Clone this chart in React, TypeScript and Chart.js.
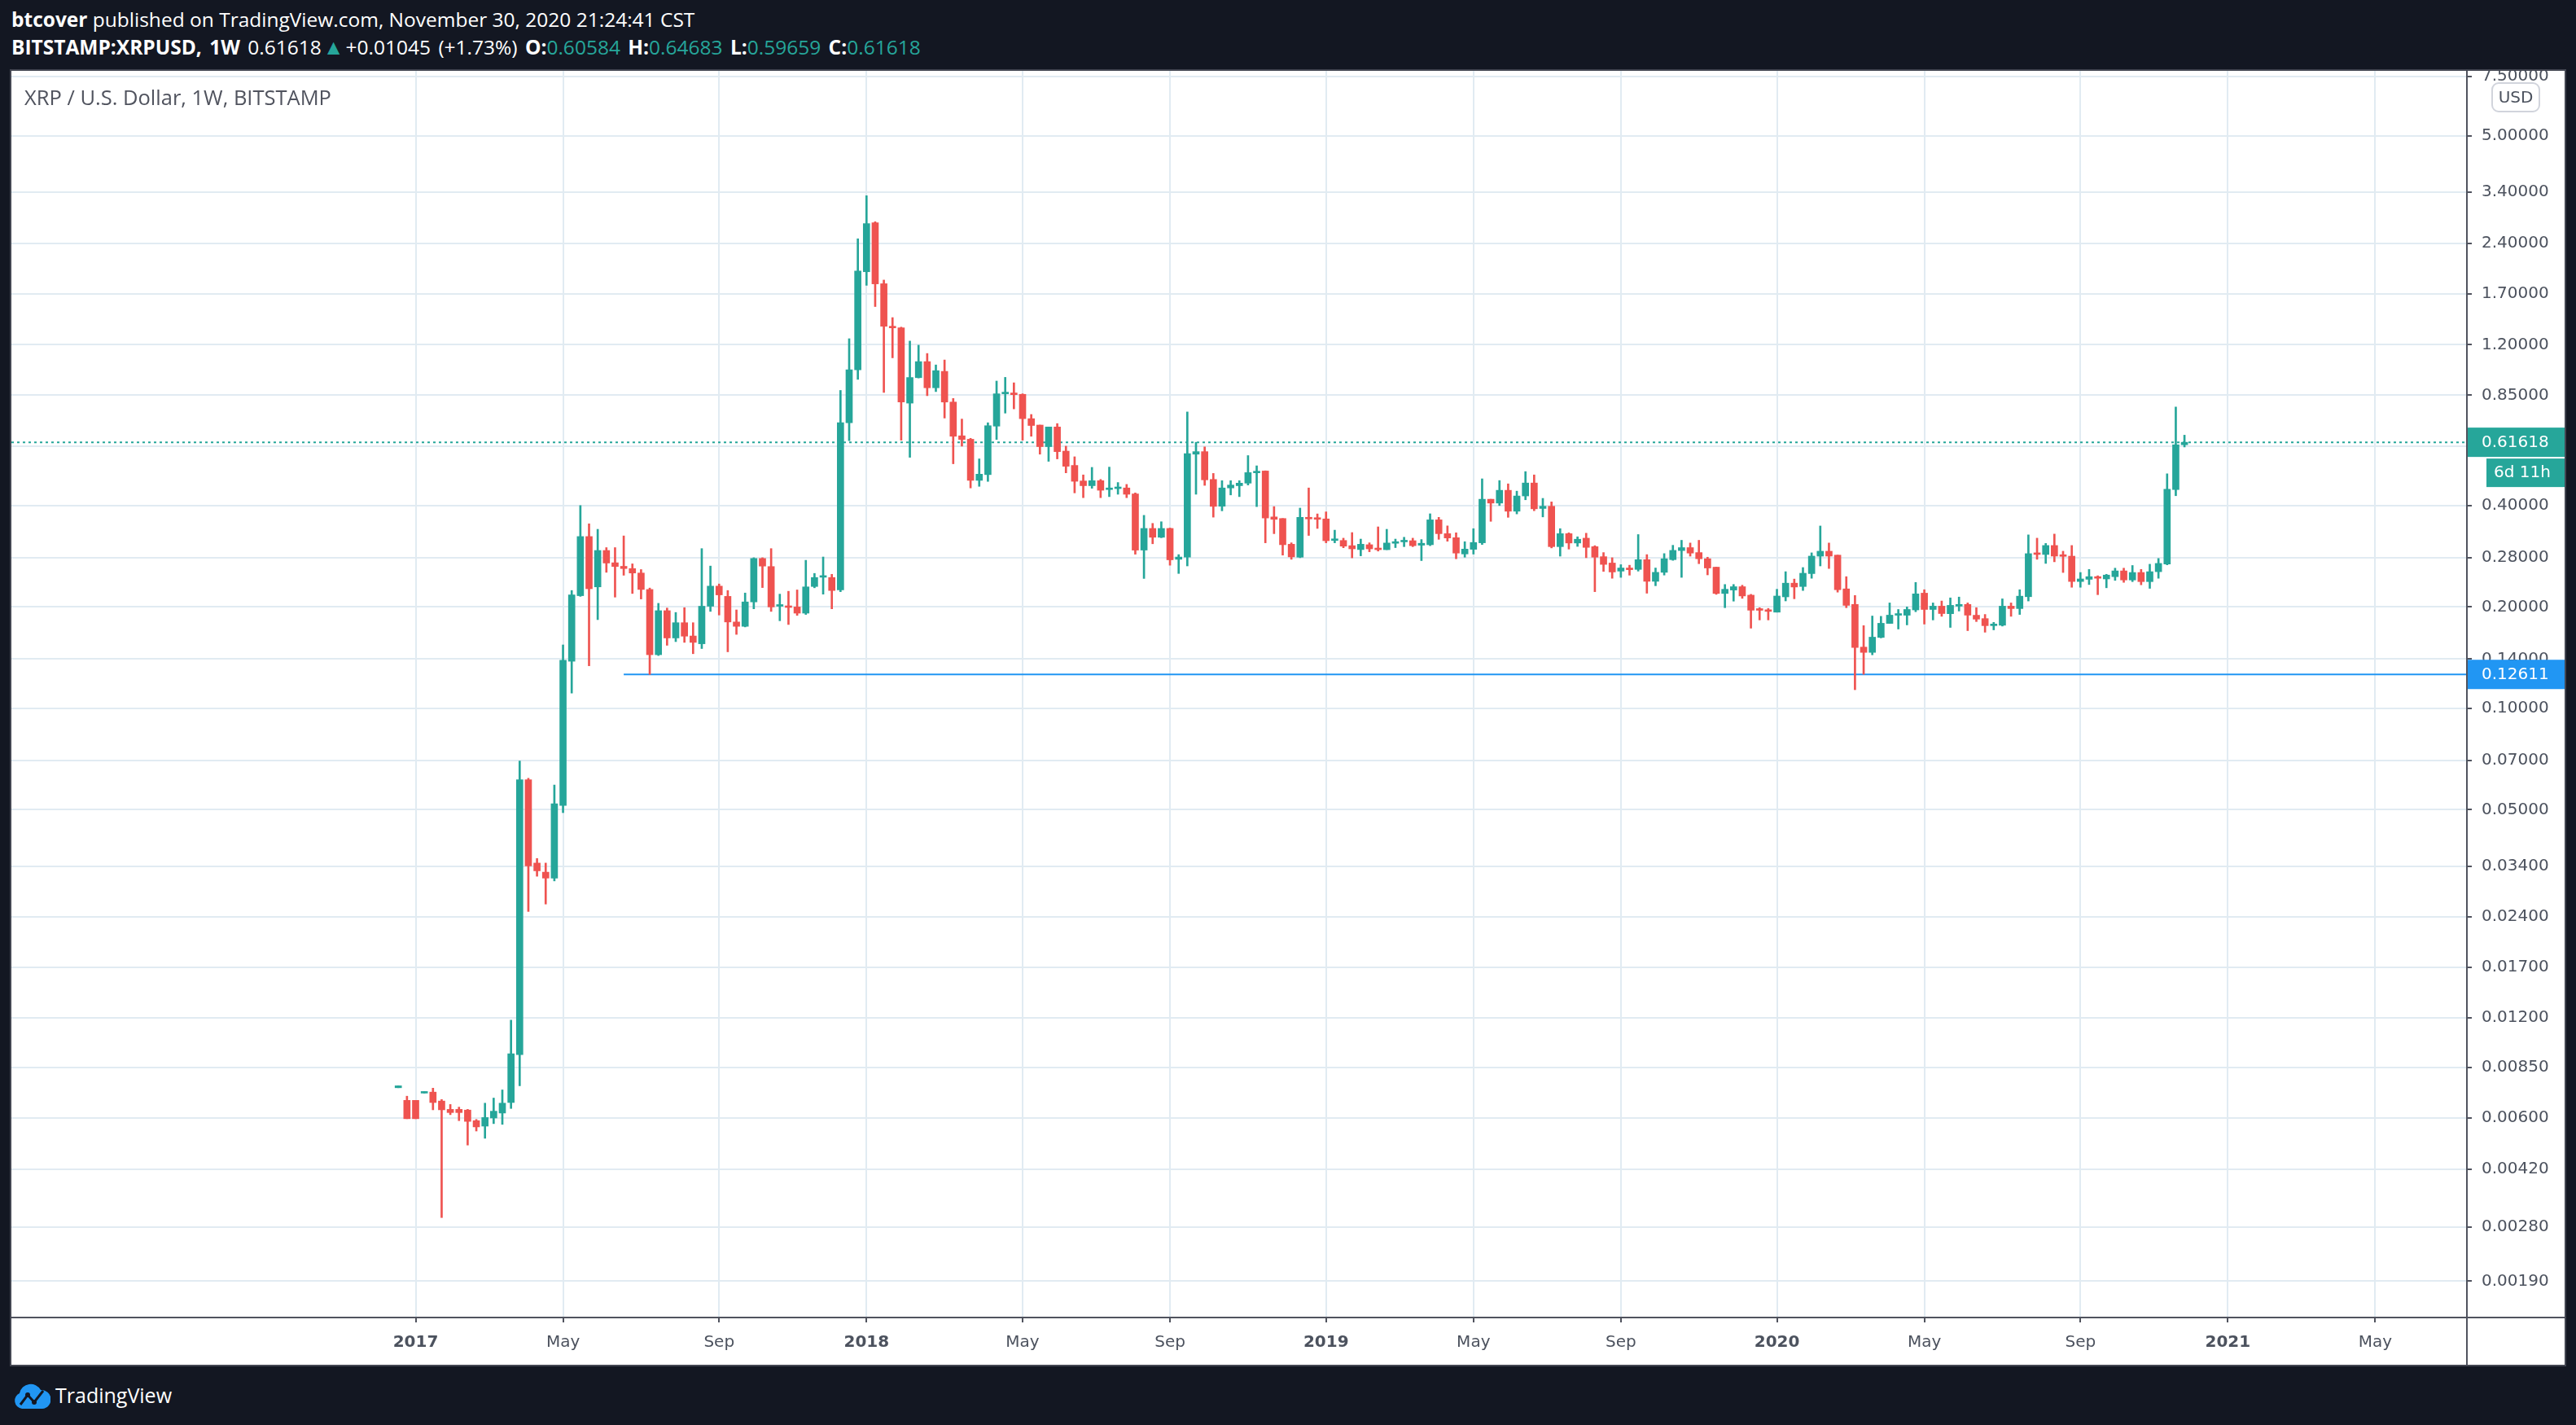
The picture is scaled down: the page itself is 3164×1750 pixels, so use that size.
import React, { useEffect, useRef } from 'react';
import { Chart, registerables, LogarithmicScale } from 'chart.js';

Chart.register(...registerables);

// TradingView-like log transform: log10(price + offset)
const LOG_OFFSET = 0.0001;
class TVLogScale extends LogarithmicScale {
  static id = 'tvlog';
  getPixelForValue(value: number) {
    const s = Math.log10((this as any).min + LOG_OFFSET);
    const e = Math.log10((this as any).max + LOG_OFFSET);
    return (this as any).getPixelForDecimal((Math.log10(value + LOG_OFFSET) - s) / (e - s));
  }
  getValueForPixel(pixel: number) {
    const s = Math.log10((this as any).min + LOG_OFFSET);
    const e = Math.log10((this as any).max + LOG_OFFSET);
    return Math.pow(10, s + (this as any).getDecimalForPixel(pixel) * (e - s)) - LOG_OFFSET;
  }
}
Chart.register(TVLogScale as any);

// ---------------- DATA ----------------
// weekly bars, bar index 0 = week of 2 Jan 2017; first bar is index FIRST_BAR
const FIRST_BAR = -2;

const OPEN = [
  0.0074, 0.00678, 0.00678, 0.00713, 0.00718, 0.00675, 0.00637, 0.00637, 0.00634, 0.00589,
  0.00567, 0.0060, 0.00621, 0.00668, 0.0093, 0.0614, 0.0347, 0.0326, 0.0313, 0.0515,
  0.138, 0.216, 0.3236, 0.2294, 0.2942, 0.2705, 0.264, 0.26, 0.2522, 0.2254,
  0.1443, 0.195, 0.1618, 0.1796, 0.164, 0.1555, 0.201, 0.2306, 0.215, 0.1805,
  0.1752, 0.207, 0.2786, 0.2636, 0.201, 0.20, 0.20, 0.1917, 0.23, 0.245,
  0.2446, 0.2247, 0.704, 1.01, 1.975, 2.76, 1.82, 1.361, 1.346, 0.805,
  0.958, 1.069, 0.894, 1.0, 0.811, 0.644, 0.629, 0.475, 0.494, 0.688,
  0.858, 0.863, 0.855, 0.724, 0.693, 0.598, 0.684, 0.58, 0.526, 0.473,
  0.458, 0.474, 0.446, 0.449, 0.451, 0.433, 0.295, 0.342, 0.322, 0.342,
  0.277, 0.281, 0.568, 0.578, 0.478, 0.398, 0.451, 0.458, 0.466, 0.50,
  0.5064, 0.37, 0.366, 0.307, 0.281, 0.369, 0.367, 0.365, 0.315, 0.315,
  0.304, 0.296, 0.306, 0.298, 0.2958, 0.309, 0.312, 0.3145, 0.305, 0.306,
  0.3627, 0.33, 0.321, 0.2873, 0.2965, 0.31, 0.4175, 0.4067, 0.4438, 0.3847,
  0.427, 0.4665, 0.392, 0.398, 0.302, 0.33, 0.3096, 0.32, 0.302, 0.282,
  0.27, 0.2555, 0.261, 0.2585, 0.2763, 0.2383, 0.2534, 0.2763, 0.294, 0.30,
  0.29, 0.278, 0.2625, 0.2193, 0.2245, 0.2297, 0.2168, 0.1965, 0.196, 0.193,
  0.2143, 0.2353, 0.23, 0.2512, 0.283, 0.2927, 0.285, 0.2263, 0.2035, 0.152,
  0.1466, 0.1624, 0.1787, 0.189, 0.189, 0.196, 0.2198, 0.1966, 0.2011, 0.191,
  0.2011, 0.2035, 0.189, 0.1847, 0.176, 0.1765, 0.2011, 0.1978, 0.2145, 0.2895,
  0.2863, 0.3044, 0.285, 0.283, 0.238, 0.2416, 0.246, 0.2422, 0.246, 0.2559,
  0.2405, 0.2531, 0.2378, 0.2545, 0.2683, 0.446, 0.60584,
];
const HIGH = [
  0.0075, 0.00698, 0.00678, 0.0072, 0.00738, 0.00682, 0.00659, 0.00647, 0.00637, 0.00594,
  0.00665, 0.00689, 0.00729, 0.0118, 0.0698, 0.062, 0.0358, 0.0347, 0.0592, 0.1543,
  0.2238, 0.40, 0.353, 0.34, 0.30, 0.30, 0.325, 0.2685, 0.2582, 0.2276,
  0.205, 0.1985, 0.1926, 0.199, 0.1796, 0.298, 0.2645, 0.234, 0.2238, 0.196,
  0.22, 0.28, 0.28, 0.298, 0.2183, 0.2226, 0.2247, 0.2751, 0.2515, 0.2814,
  0.25, 0.878, 1.25, 2.474, 3.32, 2.78, 1.866, 1.444, 1.353, 1.23,
  1.196, 1.13, 1.045, 1.081, 0.831, 0.722, 0.633, 0.55, 0.704, 0.936,
  0.96, 0.925, 0.858, 0.745, 0.693, 0.684, 0.70, 0.60, 0.558, 0.493,
  0.519, 0.478, 0.52, 0.468, 0.462, 0.436, 0.374, 0.354, 0.358, 0.343,
  0.286, 0.758, 0.616, 0.597, 0.498, 0.474, 0.474, 0.474, 0.5626, 0.5246,
  0.507, 0.397, 0.366, 0.31, 0.393, 0.451, 0.3777, 0.383, 0.338, 0.32,
  0.3325, 0.318, 0.31, 0.3457, 0.34, 0.318, 0.322, 0.32, 0.317, 0.378,
  0.369, 0.348, 0.332, 0.3124, 0.3415, 0.48, 0.4175, 0.4744, 0.4638, 0.4413,
  0.5043, 0.493, 0.42, 0.41, 0.3415, 0.332, 0.323, 0.331, 0.304, 0.29,
  0.28, 0.267, 0.266, 0.328, 0.286, 0.261, 0.288, 0.3048, 0.3154, 0.3096,
  0.3154, 0.281, 0.2625, 0.2332, 0.2332, 0.232, 0.218, 0.199, 0.198, 0.2257,
  0.2545, 0.242, 0.2618, 0.2895, 0.3478, 0.3096, 0.285, 0.246, 0.2163, 0.176,
  0.188, 0.1876, 0.2056, 0.1966, 0.20, 0.2365, 0.225, 0.2056, 0.2083, 0.2128,
  0.214, 0.2056, 0.199, 0.19, 0.18, 0.2114, 0.2056, 0.225, 0.3273, 0.32,
  0.3087, 0.3291, 0.2927, 0.3044, 0.2531, 0.2585, 0.2475, 0.25, 0.2607, 0.2607,
  0.2655, 0.2585, 0.2678, 0.2786, 0.4968, 0.784, 0.64683,
];
const LOW = [
  0.0074, 0.00597, 0.00597, 0.00713, 0.00635, 0.00299, 0.00614, 0.00589, 0.00497, 0.00548,
  0.00521, 0.00577, 0.00574, 0.00641, 0.0075, 0.0249, 0.0317, 0.0262, 0.0307, 0.049,
  0.111, 0.215, 0.1338, 0.1834, 0.2534, 0.2139, 0.2484, 0.2193, 0.2112, 0.1261,
  0.1435, 0.1539, 0.1578, 0.157, 0.1453, 0.1505, 0.194, 0.1893, 0.1472, 0.1658,
  0.1745, 0.1975, 0.2283, 0.194, 0.182, 0.1774, 0.1888, 0.19, 0.228, 0.2183,
  0.1975, 0.222, 0.623, 0.947, 1.80, 1.557, 0.866, 1.097, 0.625, 0.556,
  0.956, 0.847, 0.871, 0.727, 0.532, 0.60, 0.451, 0.456, 0.4716, 0.628,
  0.752, 0.774, 0.625, 0.642, 0.568, 0.541, 0.55, 0.50, 0.436, 0.422,
  0.45, 0.422, 0.425, 0.432, 0.422, 0.2868, 0.243, 0.308, 0.321, 0.266,
  0.2514, 0.2647, 0.432, 0.459, 0.3694, 0.3857, 0.43, 0.425, 0.46, 0.397,
  0.31, 0.33, 0.285, 0.277, 0.28, 0.326, 0.342, 0.31, 0.31, 0.2997,
  0.2797, 0.2836, 0.2916, 0.293, 0.2958, 0.30, 0.302, 0.302, 0.2745, 0.304,
  0.3175, 0.3134, 0.278, 0.281, 0.287, 0.3065, 0.359, 0.40, 0.369, 0.3777,
  0.416, 0.386, 0.37, 0.2994, 0.283, 0.297, 0.3025, 0.28, 0.222, 0.255,
  0.2433, 0.2448, 0.2485, 0.2555, 0.2197, 0.2312, 0.2487, 0.275, 0.2448, 0.283,
  0.2688, 0.249, 0.218, 0.199, 0.2081, 0.2121, 0.173, 0.183, 0.183, 0.193,
  0.2084, 0.2115, 0.2238, 0.2433, 0.2647, 0.2601, 0.2213, 0.199, 0.1136, 0.1262,
  0.1442, 0.1619, 0.1787, 0.172, 0.1769, 0.1936, 0.1779, 0.183, 0.1876, 0.1739,
  0.1945, 0.1701, 0.181, 0.1683, 0.171, 0.1755, 0.1876, 0.19, 0.2083, 0.277,
  0.2693, 0.2723, 0.2531, 0.2288, 0.2288, 0.2331, 0.2175, 0.228, 0.2398, 0.2366,
  0.2378, 0.2327, 0.2271, 0.2433, 0.2667, 0.4277, 0.59659,
];
const CLOSE = [
  0.0075, 0.00597, 0.00597, 0.0072, 0.00668, 0.00635, 0.00623, 0.00623, 0.00586, 0.00564,
  0.00602, 0.00629, 0.00665, 0.00936, 0.0614, 0.034, 0.0329, 0.0313, 0.0521, 0.139,
  0.2172, 0.3236, 0.2265, 0.2942, 0.27, 0.2637, 0.26, 0.2522, 0.2254, 0.1443,
  0.195, 0.1618, 0.1796, 0.1638, 0.157, 0.201, 0.2306, 0.2172, 0.1805, 0.1752,
  0.207, 0.2786, 0.2644, 0.20, 0.2015, 0.1993, 0.1917, 0.2294, 0.2446, 0.246,
  0.2238, 0.704, 1.011, 1.985, 2.744, 1.818, 1.361, 1.346, 0.811, 0.959,
  1.069, 0.894, 1.005, 0.811, 0.642, 0.628, 0.475, 0.4955, 0.69, 0.858,
  0.862, 0.853, 0.724, 0.691, 0.598, 0.684, 0.578, 0.523, 0.472, 0.458,
  0.474, 0.444, 0.448, 0.451, 0.432, 0.2949, 0.342, 0.322, 0.342, 0.276,
  0.2813, 0.57, 0.578, 0.4766, 0.3977, 0.451, 0.46, 0.466, 0.5008, 0.503,
  0.3673, 0.364, 0.306, 0.2816, 0.369, 0.365, 0.364, 0.3145, 0.318, 0.303,
  0.2975, 0.307, 0.2975, 0.2958, 0.3096, 0.312, 0.314, 0.304, 0.309, 0.3627,
  0.33, 0.3205, 0.289, 0.297, 0.3107, 0.4175, 0.4067, 0.4438, 0.3847, 0.4269,
  0.4665, 0.391, 0.398, 0.302, 0.33, 0.3096, 0.3177, 0.3005, 0.281, 0.2675,
  0.254, 0.261, 0.258, 0.2763, 0.2383, 0.2534, 0.278, 0.2944, 0.30, 0.289,
  0.278, 0.261, 0.2193, 0.2257, 0.2297, 0.2156, 0.1956, 0.1955, 0.194, 0.2155,
  0.2353, 0.2292, 0.2518, 0.2831, 0.2927, 0.2831, 0.225, 0.2022, 0.1516, 0.1466,
  0.1627, 0.1789, 0.1891, 0.1895, 0.1966, 0.2187, 0.1966, 0.2011, 0.1912, 0.2022,
  0.2035, 0.1891, 0.184, 0.176, 0.1775, 0.2011, 0.1978, 0.2153, 0.2879, 0.2863,
  0.3044, 0.2831, 0.2826, 0.238, 0.2422, 0.246, 0.2433, 0.2487, 0.2559, 0.2405,
  0.2531, 0.2378, 0.2545, 0.2693, 0.447, 0.6057, 0.61618,
];

// time axis tick labels (bar index of first weekly bar of the month)
const X_TICK_POS = [0, 17, 35, 52, 70, 87, 105, 122, 139, 157, 174, 192, 209, 226];
const X_TICK_LABELS = ['2017', 'May', 'Sep', '2018', 'May', 'Sep', '2019', 'May', 'Sep', '2020', 'May', 'Sep', '2021', 'May'];
const Y_TICKS = [7.5, 5, 3.4, 2.4, 1.7, 1.2, 0.85, 0.6, 0.4, 0.28, 0.2, 0.14, 0.1, 0.07, 0.05, 0.034, 0.024, 0.017, 0.012, 0.0085, 0.006, 0.0042, 0.0028, 0.0019];

const LAST_PRICE = 0.61618;
const COUNTDOWN = '6d 11h';
const SUPPORT_PRICE = 0.12611;
const SUPPORT_START = 24;

const X_MIN = -46.62;
const X_MAX = 236.48;
const Y_MIN = 0.00147;
const Y_MAX = 7.79;

// ---------------- STYLE ----------------
const UP = '#26a69a';
const DOWN = '#ef5350';
const BLUE = '#2196f3';
const GRID = '#e1ebf2';
const AXIS = '#50535e';
const TEXT = '#4c525e';
const BG = '#131722';
const AXIS_FONT = '"DejaVu Sans", sans-serif';
const CANVAS_W = 3136;
const CANVAS_H = 1589;
const Y_AXIS_W = 121;
const X_AXIS_H = 59;

const overlayPlugin = {
  id: 'tvOverlay',
  afterDraw(chart: any) {
    const { ctx, chartArea } = chart;
    const ys = chart.scales.y;
    const W = chart.width;
    const H = chart.height;
    const r = chartArea.right;
    const b = chartArea.bottom;
    ctx.save();
    ctx.strokeStyle = AXIS;
    ctx.lineWidth = 2;
    ctx.beginPath();
    ctx.moveTo(r + 1, 0);
    ctx.lineTo(r + 1, H);
    ctx.moveTo(0, b + 1);
    ctx.lineTo(W, b + 1);
    ctx.stroke();

    ctx.font = `20px ${AXIS_FONT}`;
    ctx.textBaseline = 'middle';
    ctx.textAlign = 'left';
    const box = (price: number, color: string) => {
      const y = ys.getPixelForValue(price);
      ctx.fillStyle = color;
      ctx.fillRect(r + 2, y - 18, W - r - 2, 36);
      ctx.fillStyle = '#ffffff';
      ctx.fillText(price.toFixed(5), r + 19, y + 1);
      return y;
    };
    const yl = box(LAST_PRICE, UP);
    ctx.fillStyle = UP;
    ctx.fillRect(r + 25, yl + 20, W - r - 25, 35);
    ctx.fillStyle = '#ffffff';
    ctx.fillText(COUNTDOWN, r + 34, yl + 38);
    box(SUPPORT_PRICE, BLUE);

    // currency pill
    const px = r + 32, py = 15, pw = 58, ph = 35, rad = 8;
    ctx.beginPath();
    ctx.moveTo(px + rad, py);
    ctx.arcTo(px + pw, py, px + pw, py + ph, rad);
    ctx.arcTo(px + pw, py + ph, px, py + ph, rad);
    ctx.arcTo(px, py + ph, px, py, rad);
    ctx.arcTo(px, py, px + pw, py, rad);
    ctx.closePath();
    ctx.fillStyle = '#ffffff';
    ctx.fill();
    ctx.strokeStyle = '#d1d4dc';
    ctx.lineWidth = 2;
    ctx.stroke();
    ctx.fillStyle = TEXT;
    ctx.textAlign = 'center';
    ctx.fillText('USD', px + pw / 2, py + ph / 2 + 1);
    ctx.restore();
  },
};

export default function App() {
  const canvasRef = useRef<HTMLCanvasElement>(null);

  useEffect(() => {
    document.body.style.margin = '0';
    const canvas = canvasRef.current;
    if (!canvas) return;
    const bars = OPEN.map((o, i) => ({ x: FIRST_BAR + i, o, h: HIGH[i], l: LOW[i], c: CLOSE[i] }));
    const colors = bars.map((k) => (k.c >= k.o ? UP : DOWN));

    const chart = new Chart(canvas, {
      type: 'bar',
      data: {
        datasets: [
          {
            type: 'bar',
            label: 'wick',
            data: bars.map((k) => ({ x: k.x, y: [k.l, k.h] })) as any,
            backgroundColor: colors,
            barThickness: 2,
            grouped: false,
            minBarLength: 1,
            borderWidth: 0,
          } as any,
          {
            type: 'bar',
            label: 'body',
            data: bars.map((k) => ({ x: k.x, y: [k.o, k.c] })) as any,
            backgroundColor: colors,
            barThickness: 8,
            grouped: false,
            minBarLength: 2,
            borderWidth: 0,
          } as any,
          {
            type: 'line',
            label: 'last',
            data: [{ x: X_MIN, y: LAST_PRICE }, { x: X_MAX, y: LAST_PRICE }],
            borderColor: UP,
            borderWidth: 2,
            borderDash: [3, 4],
            pointRadius: 0,
          } as any,
          {
            type: 'line',
            label: 'support',
            data: [{ x: SUPPORT_START, y: SUPPORT_PRICE }, { x: X_MAX, y: SUPPORT_PRICE }],
            borderColor: BLUE,
            borderWidth: 2,
            pointRadius: 0,
          } as any,
        ],
      },
      options: {
        animation: false,
        responsive: false,
        devicePixelRatio: 1,
        layout: { padding: 0 },
        plugins: { legend: { display: false }, tooltip: { enabled: false } },
        scales: {
          x: {
            type: 'linear',
            offset: false,
            min: X_MIN,
            max: X_MAX,
            bounds: 'data',
            afterBuildTicks: (scale: any) => {
              scale.ticks = X_TICK_POS.map((v) => ({ value: v }));
            },
            afterFit: (scale: any) => {
              scale.height = X_AXIS_H;
              scale.paddingLeft = 0;
              scale.paddingRight = 0;
            },
            grid: { offset: false, color: GRID, lineWidth: 2, tickColor: AXIS, tickLength: 7, tickWidth: 2 },
            border: { display: false },
            ticks: {
              autoSkip: false,
              maxRotation: 0,
              minRotation: 0,
              padding: 13,
              color: TEXT,
              font: (ctx: any) => ({
                family: AXIS_FONT,
                size: 20,
                weight: /^\d{4}$/.test(X_TICK_LABELS[X_TICK_POS.indexOf(ctx.tick?.value)] || '') ? 'bold' : 'normal',
              }),
              callback: (v: any) => {
                const i = X_TICK_POS.indexOf(Number(v));
                return i >= 0 ? X_TICK_LABELS[i] : '';
              },
            },
          },
          y: {
            type: 'tvlog' as any,
            position: 'right',
            min: Y_MIN,
            max: Y_MAX,
            bounds: 'data',
            afterBuildTicks: (scale: any) => {
              scale.ticks = Y_TICKS.map((v) => ({ value: v }));
            },
            afterFit: (scale: any) => {
              scale.width = Y_AXIS_W;
              scale.paddingTop = 0;
              scale.paddingBottom = 0;
            },
            grid: { color: GRID, lineWidth: 2, tickColor: AXIS, tickLength: 7, tickWidth: 2 },
            border: { display: false },
            ticks: {
              autoSkip: false,
              padding: 12,
              color: TEXT,
              font: { family: AXIS_FONT, size: 20 },
              callback: (v: any) => Number(v).toFixed(5),
            },
          },
        },
      } as any,
      plugins: [overlayPlugin],
    });
    return () => chart.destroy();
  }, []);

  const hdr: React.CSSProperties = { position: 'absolute', left: 14, color: '#ffffff', fontSize: 24.5, lineHeight: '32px', whiteSpace: 'nowrap' };
  const val: React.CSSProperties = { color: UP };

  return (
    <div style={{ position: 'fixed', left: 0, top: 0, width: 3164, height: 1750, background: BG, overflow: 'hidden', fontFamily: '"Open Sans", sans-serif' }}>
      <div style={{ ...hdr, top: 8 }}>
        <b>btcover</b> published on TradingView.com, November 30, 2020 21:24:41 CST
      </div>
      <div style={{ ...hdr, top: 41, wordSpacing: 3 }}>
        <b>BITSTAMP:XRPUSD, 1W</b> 0.61618<span style={{ color: UP, fontSize: 26, margin: '0 2px' }}>▲</span>+0.01045 (+1.73%) <b>O:</b><span style={val}>0.60584</span> <b>H:</b><span style={val}>0.64683</span> <b>L:</b><span style={val}>0.59659</span> <b>C:</b><span style={val}>0.61618</span>
      </div>
      <div style={{ position: 'absolute', left: 12, top: 85, width: 3140, height: 1593, border: '2px solid #434651', boxSizing: 'border-box', background: '#ffffff' }}>
        <canvas ref={canvasRef} width={CANVAS_W} height={CANVAS_H} style={{ position: 'absolute', left: 0, top: 0, width: CANVAS_W, height: CANVAS_H }} />
        <div style={{ position: 'absolute', left: 16, top: 16, fontSize: 25.5, lineHeight: '32px', color: '#50535e', whiteSpace: 'nowrap' }}>
          XRP / U.S. Dollar, 1W, BITSTAMP
        </div>
      </div>
      <div style={{ position: 'absolute', left: 16, top: 1694, display: 'flex', alignItems: 'center', height: 38 }}>
        <svg width="46" height="38" viewBox="0 0 46 38">
          <path d="M11 36 A10 10 0 0 1 8 17 A14 14 0 0 1 34 13 A11 11 0 0 1 36 36 Z" fill="#2196f3" />
          <path d="M9 31 L18 19 L26 28 L37 14" stroke="#131722" strokeWidth="3" fill="none" />
          <circle cx="18" cy="19" r="3" fill="#131722" />
          <circle cx="26" cy="28" r="3" fill="#131722" />
        </svg>
        <span style={{ color: '#ffffff', fontSize: 25, marginLeft: 6 }}>TradingView</span>
      </div>
    </div>
  );
}
